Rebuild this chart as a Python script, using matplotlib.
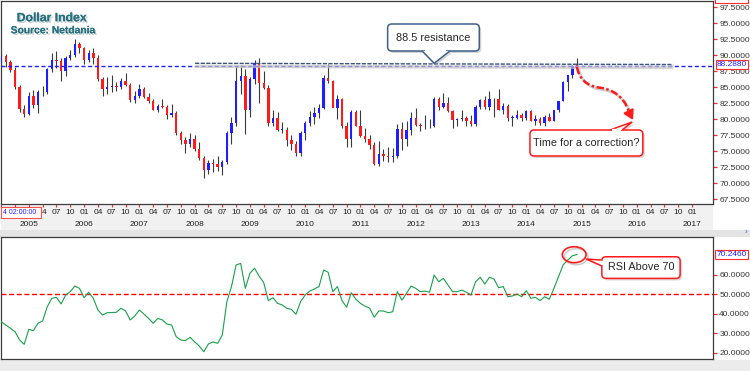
import matplotlib
matplotlib.use("Agg")
import matplotlib.pyplot as plt
import matplotlib.patheffects as pe
import matplotlib.transforms as mtransforms
from matplotlib import font_manager
from matplotlib.patches import FancyBboxPatch, Polygon, Ellipse, Rectangle, PathPatch
from matplotlib.path import Path
import numpy as np

# Monthly Dollar Index candles, Jul 2004 .. Dec 2014 (one row per year)
opens = [
    88.8, 89.9, 88.9, 87.7, 85.1, 81.6,
    80.9, 83.6, 82.3, 84.2, 84.3, 87.8, 89.2, 89.1, 87.5, 89.6, 90.0, 91.7,
    91.1, 89.2, 90.3, 89.6, 86.3, 84.8, 85.1, 85.2, 85.0, 86.0, 85.4, 83.0,
    83.7, 84.8, 83.5, 82.9, 81.5, 82.1, 82.0, 80.7, 81.0, 77.9, 76.7, 76.2,
    77.0, 75.4, 73.9, 72.1, 73.1, 73.0, 72.5, 73.3, 77.8, 79.5, 86.0, 86.7,
    81.4, 86.3, 88.8, 85.6, 84.9, 79.4, 80.2, 78.4, 78.4, 76.7, 76.2, 74.8,
    77.9, 79.5, 80.3, 81.0, 81.8, 86.4, 86.0, 81.7, 83.1, 78.9, 77.0, 81.1,
    79.0, 77.4, 76.9, 76.0, 73.0, 74.6, 74.3, 74.1, 74.3, 78.5, 76.9, 78.4,
    80.2, 79.1, 78.9, 79.0, 78.9, 83.2, 81.9, 82.6, 81.3, 79.9, 80.1, 80.2,
    79.8, 79.3, 82.0, 83.0, 81.9, 83.2, 83.1, 81.4, 82.1, 80.2, 80.2, 80.7,
    80.2, 81.3, 79.8, 80.1, 79.5, 80.4, 79.8, 81.5, 82.8, 85.9, 86.9, 88.4,
]
highs = [
    90.3, 90.2, 89.3, 88.2, 85.3, 82.3,
    84.2, 84.6, 84.6, 85.2, 88.0, 90.3, 90.7, 89.6, 89.9, 90.9, 92.6, 92.1,
    91.3, 90.9, 91.1, 90.1, 86.6, 86.6, 86.9, 85.9, 86.5, 87.3, 85.7, 84.4,
    85.5, 85.1, 84.1, 83.1, 82.4, 83.2, 82.2, 82.4, 81.3, 78.2, 77.3, 77.8,
    77.6, 76.4, 74.2, 73.6, 73.8, 74.3, 73.7, 78.1, 80.4, 88.4, 88.5, 87.9,
    86.6, 89.2, 89.6, 87.5, 85.3, 81.4, 81.2, 79.6, 78.8, 77.6, 76.6, 78.2,
    79.8, 81.3, 82.0, 82.4, 87.0, 88.7, 86.2, 83.8, 83.4, 79.6, 81.4, 81.4,
    81.5, 78.7, 77.5, 76.4, 76.6, 75.4, 75.6, 75.5, 79.2, 79.6, 79.8, 81.2,
    81.8, 79.4, 80.7, 80.0, 83.5, 83.5, 84.1, 83.5, 81.5, 80.2, 81.4, 80.5,
    80.7, 82.2, 83.2, 83.6, 84.5, 83.4, 84.8, 82.6, 82.4, 80.7, 81.5, 81.0,
    81.5, 81.5, 80.6, 80.3, 80.6, 81.0, 81.5, 82.8, 86.0, 87.0, 88.5, 89.6,
]
lows = [
    88.2, 88.2, 87.4, 84.7, 81.2, 80.4,
    80.6, 81.8, 81.0, 83.6, 84.0, 87.4, 88.0, 86.0, 86.8, 89.2, 89.8, 90.3,
    88.7, 88.9, 88.7, 86.0, 83.6, 83.9, 84.3, 84.5, 84.7, 85.2, 82.7, 82.5,
    83.4, 83.3, 82.6, 81.4, 81.2, 81.8, 80.0, 80.4, 77.6, 76.2, 74.8, 75.6,
    75.0, 73.6, 70.9, 71.4, 71.8, 72.0, 71.3, 73.0, 76.2, 78.9, 84.0, 77.7,
    80.3, 85.5, 82.6, 84.7, 78.9, 78.9, 78.1, 77.8, 75.9, 75.2, 74.2, 74.2,
    76.7, 78.9, 79.3, 80.2, 81.6, 85.6, 81.9, 80.1, 78.7, 75.6, 75.7, 78.9,
    77.3, 76.4, 75.3, 72.9, 72.7, 73.5, 73.4, 73.4, 73.9, 75.2, 75.9, 77.5,
    78.9, 78.1, 78.5, 78.6, 78.8, 81.4, 81.7, 81.2, 78.6, 79.0, 79.7, 79.0,
    79.0, 79.0, 81.6, 81.6, 81.4, 80.3, 81.4, 80.9, 79.8, 79.0, 80.0, 79.8,
    79.9, 79.8, 79.1, 79.1, 78.9, 79.7, 79.8, 81.1, 82.8, 84.5, 86.5, 87.9,
]
closes = [
    89.9, 88.9, 87.7, 85.1, 81.6, 80.9,
    83.6, 82.3, 84.2, 84.3, 87.8, 89.2, 89.1, 87.5, 89.6, 90.0, 91.7, 91.1,
    89.2, 90.3, 89.6, 86.3, 84.8, 85.1, 85.2, 85.0, 86.0, 85.4, 83.0, 83.7,
    84.8, 83.5, 82.9, 81.5, 82.1, 82.0, 80.7, 81.0, 77.9, 76.7, 76.2, 77.0,
    75.4, 73.9, 72.1, 73.1, 73.0, 72.5, 73.3, 77.8, 79.5, 86.0, 86.7, 81.4,
    86.3, 88.8, 85.6, 84.9, 79.4, 80.2, 78.4, 78.4, 76.7, 76.2, 74.8, 77.9,
    79.5, 80.3, 81.0, 81.8, 86.4, 86.0, 81.7, 83.1, 78.9, 77.0, 81.1, 79.0,
    77.4, 76.9, 76.0, 73.0, 74.6, 74.3, 74.1, 74.3, 78.5, 76.9, 78.4, 80.2,
    79.1, 78.9, 79.0, 78.9, 83.2, 81.9, 82.6, 81.3, 79.9, 80.1, 80.2, 79.8,
    79.3, 82.0, 83.0, 81.9, 83.2, 83.1, 81.4, 82.1, 80.2, 80.2, 80.7, 80.2,
    81.3, 79.8, 80.1, 79.5, 80.4, 79.8, 81.5, 82.8, 85.9, 86.9, 88.4, 88.288,
]
rsi = [
    35.8, 34.1, 32.4, 30.7, 26.4, 24.2,
    31.9, 31.2, 35.0, 36.2, 43.5, 47.8, 48.3, 44.9, 49.5, 51.2, 54.1, 52.9,
    48.1, 50.9, 47.8, 41.8, 39.2, 40.4, 40.5, 40.6, 42.7, 41.3, 36.7, 38.7,
    41.8, 39.7, 37.5, 35.0, 37.5, 36.7, 34.6, 34.1, 28.1, 26.4, 26.1, 27.8,
    25.5, 23.3, 20.4, 24.4, 25.4, 24.7, 29.0, 46.1, 53.8, 64.9, 65.7, 52.9,
    60.6, 63.2, 59.2, 55.8, 46.6, 48.1, 45.2, 44.4, 42.7, 42.1, 39.6, 46.1,
    49.5, 51.5, 52.6, 53.8, 62.3, 61.1, 51.2, 53.8, 46.6, 43.2, 50.7, 47.3,
    45.2, 43.8, 42.7, 38.1, 41.3, 41.3, 40.4, 40.9, 51.2, 46.9, 50.3, 54.1,
    52.9, 51.2, 51.5, 50.9, 59.7, 56.3, 58.0, 54.6, 51.2, 51.2, 52.0, 50.9,
    49.5, 56.3, 58.6, 55.1, 58.6, 57.7, 53.2, 53.8, 48.6, 49.0, 50.0, 48.6,
    51.7, 47.8, 48.3, 46.6, 48.6, 47.3, 52.9, 58.9, 64.9, 67.4, 69.6, 70.246,
]

price_ticks = [67.5, 70.0, 72.5, 75.0, 77.5, 80.0, 82.5, 85.0, 87.5, 90.0, 92.5, 95.0, 97.5]
rsi_ticks = [20, 30, 40, 50, 60]
last_price = 88.288
last_rsi = 70.246
rsi_mid = 50
start_year, start_month = 2004, 7
resistance_x = [42.1, 145.9]
resistance_y = [88.75, 88.56]

plt.rcParams['font.family'] = ['Liberation Sans', 'DejaVu Sans']
names = {f.name for f in font_manager.fontManager.ttflist}
narrow = 'Liberation Sans Narrow' if 'Liberation Sans Narrow' in names else 'Liberation Sans'

W, H = 750, 371
fig = plt.figure(figsize=(W / 100, H / 100), dpi=100, facecolor='white')


def box(x0, y0, x1, y1):
    return [x0 / W, 1 - y1 / H, (x1 - x0) / W, (y1 - y0) / H]


XLIM = (-0.15, 154.54)
SPINE = '#3c3c3c'
TICKRED = '#ff2a2a'
BLUE = '#1e1eff'
RED = '#ff1a1a'

# grey bands under the date axis and at the bottom
db = fig.add_axes(box(0.5, 204, 713, 230))
db.set_facecolor('#f1f1f1')
lb = fig.add_axes(box(0, 230, 750, 237))
lb.set_facecolor('#e4e4e4')
bb = fig.add_axes(box(0, 359.5, 750, 371))
bb.set_facecolor('#ececec')
for a in (db, lb, bb):
    a.set_xticks([])
    a.set_yticks([])
    for s in a.spines.values():
        s.set_visible(False)
db.set_xlim(XLIM)
db.set_ylim(0, 1)

# ---- main price panel ----
ax = fig.add_axes(box(0.5, 0.5, 713, 204))
ax.set_xlim(XLIM)
ax.set_ylim(66.77, 98.56)
for s in ax.spines.values():
    s.set_color(SPINE)
    s.set_linewidth(0.9)

idx = np.arange(len(closes))
o, h, l, c = (np.array(v) for v in (opens, highs, lows, closes))
up = c >= o
body_lo = np.minimum(o, c)
body_h = np.maximum(np.abs(c - o), 0.12)
ax.vlines(idx, l, h, colors='#3a3a3a', lw=0.8, zorder=2)
ax.bar(idx, body_h, bottom=body_lo, width=0.52,
       color=np.where(up, BLUE, RED), lw=0, zorder=3)

ax.axhline(last_price, color=BLUE, lw=1.0, dashes=(2.9, 1.9), zorder=4)

# hand drawn resistance line with a soft shadow
sh = mtransforms.offset_copy(ax.transData, fig=fig, x=0, y=-3, units='dots')
ax.plot(resistance_x, resistance_y, color='#c4c4c4', lw=2.4, alpha=0.7,
        transform=sh, zorder=4, solid_capstyle='butt')
ax.plot(resistance_x, resistance_y, color='#3b5478', lw=1.0, dashes=(3, 1), zorder=5)

ax.yaxis.set_ticks_position('right')
ax.set_yticks(price_ticks)
ax.set_yticklabels([f"{v:.4f}" for v in price_ticks])
ax.tick_params(axis='y', direction='out', length=3, width=0.9, color=TICKRED,
               labelcolor='#333333', labelsize=6, pad=1.5)
quarters = np.arange(0, 151, 3)
ax.set_xticks(quarters)
ax.tick_params(axis='x', direction='out', length=2.5, width=0.8, color=TICKRED,
               labelbottom=False)

blend = mtransforms.blended_transform_factory(ax.transAxes, ax.transData)
ax.text(1.005, last_price + 0.25, f"{last_price:.4f}", transform=blend, ha='left', va='center',
        color=BLUE, fontsize=6, clip_on=False, zorder=10,
        bbox=dict(boxstyle='square,pad=0.1', fc='white', ec=TICKRED, lw=0.8))
ax.text(1.005, 98.95, "98.4630", transform=blend, ha='left', va='center',
        color=BLUE, fontsize=6, clip_on=False, zorder=10,
        bbox=dict(boxstyle='square,pad=0.15', fc='white', ec=TICKRED, lw=0.8))


def callout(axis, x0, y0, x1, y1, pointer, text, edge, aspect, txy):
    shadow = mtransforms.offset_copy(axis.transData, fig=fig, x=2, y=-2, units='dots')
    for tr, fc, ec, z, alpha in [(shadow, '#9a9a9a', 'none', 6, 0.4),
                                 (axis.transData, 'white', edge, 7, 1.0)]:
        axis.add_patch(FancyBboxPatch((x0, y0), x1 - x0, y1 - y0,
                                      boxstyle="round,pad=0,rounding_size=0.9",
                                      mutation_aspect=aspect, fc=fc, ec=ec, lw=1.1,
                                      transform=tr, zorder=z, alpha=alpha, clip_on=False))
        axis.add_patch(Polygon(pointer, closed=False, fc=fc, ec=ec, lw=1.1,
                               transform=tr, zorder=z + 0.1, alpha=alpha, clip_on=False))
    (px0, py0), (px1, py1) = pointer[0], pointer[-1]
    k = 0.12
    axis.plot([px0 + k * (px1 - px0), px1 - k * (px1 - px0)],
              [py0 + k * (py1 - py0), py1 - k * (py1 - py0)],
              color='white', lw=1.6, zorder=7.2, solid_capstyle='butt', clip_on=False)
    axis.text(txy[0], txy[1], text, ha='center', va='center', fontsize=7.8,
              family=narrow, color='#262626', zorder=8, clip_on=False)


callout(ax, 83.9, 90.67, 103.8, 94.89,
        [(91.4, 90.67), (94.0, 88.75), (97.4, 90.67)],
        "88.5 resistance", '#3d5f8a', 0.72, (93.75, 92.78))
callout(ax, 114.8, 74.27, 139.3, 78.33,
        [(132.2, 78.33), (137.0, 79.58), (134.8, 78.33)],
        "Time for a correction?", RED, 0.72, (126.96, 76.3))

# red dash-dot arrow from the last candle
verts = [(125.0, 88.17), (125.44, 86.45), (126.96, 85.20), (130.0, 84.94),
         (132.61, 84.70), (135.21, 83.64), (136.3, 81.14)]
codes = [Path.MOVETO] + [Path.CURVE4] * 6
arrow_path = Path(verts, codes)
sh2 = mtransforms.offset_copy(ax.transData, fig=fig, x=2, y=-2, units='dots')
ax.add_patch(PathPatch(arrow_path, fill=False, ec='#a0a0a0', lw=1.8, alpha=0.5,
                       transform=sh2, zorder=8))
ax.add_patch(PathPatch(arrow_path, fill=False, ec=RED, lw=1.8,
                       linestyle=(0, (3, 1, 1, 1)), zorder=9))
ax.annotate('', xy=(137.17, 79.89), xytext=(136.3, 81.14),
            arrowprops=dict(arrowstyle='-|>,head_length=0.55,head_width=0.32',
                            color=RED, lw=1.5, shrinkA=0, shrinkB=0), zorder=9)

# ---- date labels (first ones sit under the cursor box) ----
cursor_end = 8.64
for q in quarters:
    m = (start_month - 1 + q) % 12 + 1
    y = start_year + (start_month - 1 + q) // 12
    lab = f"{m:02d}"
    if q < cursor_end - 1:
        lab = None
    elif q < cursor_end + 1:
        lab = lab[1:]
        db.text(cursor_end + 0.25, 0.68, lab, ha='left', va='center', fontsize=6, color='#222222')
        lab = None
    if lab:
        db.text(q, 0.68, lab, ha='center', va='center', fontsize=6, color='#222222')
    if m == 1:
        db.text(q, 0.23, str(y), ha='center', va='center', fontsize=6, color='#222222')
db.add_patch(Rectangle((-0.15, 0.45), cursor_end + 0.15, 0.42, fc='white', ec='#ff5050',
                       lw=0.8, zorder=5))
db.text(0.3, 0.66, "4 02:00:00", ha='left', va='center', fontsize=5, color=BLUE, zorder=6)
fig.text(745 / W, 1 - 233 / H, '›', color='#3050ff', fontsize=6, va='center')

# ---- RSI panel ----
rx = fig.add_axes(box(0.5, 237, 713, 359))
rx.set_xlim(XLIM)
rx.set_ylim(16.67, 79.23)
for s in rx.spines.values():
    s.set_color(SPINE)
    s.set_linewidth(0.9)
rx.plot(idx, rsi, color='#18a04a', lw=0.8, zorder=3)
rx.axhline(rsi_mid, color='#ff0000', lw=1.0, dashes=(3.6, 1.9), zorder=2)
rx.yaxis.set_ticks_position('right')
rx.set_yticks(rsi_ticks)
rx.set_yticklabels([f"{v:.4f}" for v in rsi_ticks])
rx.tick_params(axis='y', direction='out', length=3, width=0.9, color=TICKRED,
               labelcolor='#333333', labelsize=6, pad=1.5)
rx.set_xticks([])
rblend = mtransforms.blended_transform_factory(rx.transAxes, rx.transData)
rx.text(1.005, last_rsi, f"{last_rsi:.4f}", transform=rblend, ha='left', va='center',
        color=BLUE, fontsize=6, clip_on=False, zorder=10,
        bbox=dict(boxstyle='square,pad=0.15', fc='white', ec=TICKRED, lw=0.8))

esh = mtransforms.offset_copy(rx.transData, fig=fig, x=2, y=-2, units='dots')
rx.add_patch(Ellipse((124.4, 70.15), 5.15, 8.2, fill=False, ec='#9a9a9a', lw=1.2,
                     alpha=0.5, transform=esh, zorder=5))
rx.add_patch(Ellipse((124.4, 70.15), 5.15, 8.2, fill=False, ec=RED, lw=1.2, zorder=6))
callout(rx, 130.4, 58.0, 147.4, 69.1,
        [(130.4, 67.4), (127.0, 67.95), (130.4, 64.4)],
        "RSI Above 70", RED, 2.36, (138.9, 63.6))

# ---- title ----
shadow_fx = [pe.withSimplePatchShadow(offset=(1.2, -1.2), shadow_rgbFace='#8a9aa0', alpha=0.45),
             pe.Normal()]
fig.text(16.7 / W, 1 - 21.3 / H, "Dollar Index", fontsize=8.8, fontweight='bold',
         color='#26707f', va='baseline', ha='left', path_effects=shadow_fx)
fig.text(10.7 / W, 1 - 33.3 / H, "Source: Netdania", fontsize=7.4, fontweight='bold',
         color='#26707f', va='baseline', ha='left', path_effects=shadow_fx)

fig.savefig('out.png', dpi=100, facecolor='white')
